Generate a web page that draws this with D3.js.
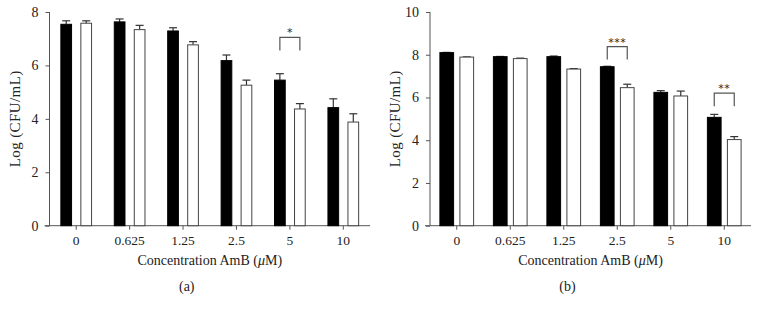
<!DOCTYPE html>
<html><head><meta charset="utf-8">
<script src="https://cdn.jsdelivr.net/npm/d3@7"></script>
<style>
body{margin:0;background:#fff;}
svg text{font-family:"Liberation Serif","Times New Roman",serif;fill:#222;}
svg text.star{font-family:"DejaVu Sans",sans-serif;-webkit-font-smoothing:grayscale;}
</style></head>
<body><svg id="c" width="760" height="312"></svg>
<script>
const categories = ["0","0.625","1.25","2.5","5","10"];
// panel (a)
const aBlack = [7.54, 7.63, 7.29, 6.18, 5.45, 4.42];
const aBlackErr = [0.13, 0.11, 0.12, 0.21, 0.24, 0.33];
const aWhite = [7.58, 7.34, 6.77, 5.26, 4.37, 3.88];
const aWhiteErr = [0.09, 0.16, 0.12, 0.19, 0.20, 0.31];
const aTicks = [0, 2, 4, 6, 8];
const aSig = [{cat:"5", label:"*", level:7.05}];
// panel (b)
const bBlack = [8.10, 7.91, 7.91, 7.44, 6.24, 5.07];
const bBlackErr = [0.01, 0.01, 0.03, 0.02, 0.08, 0.14];
const bWhite = [7.89, 7.82, 7.33, 6.46, 6.07, 4.03];
const bWhiteErr = [0.01, 0.02, 0.02, 0.16, 0.23, 0.14];
const bTicks = [0, 2, 4, 6, 8, 10];
const bSig = [{cat:"2.5", label:"***", level:8.38}, {cat:"10", label:"**", level:6.20}];

const svg = d3.select("#c");

function panel(opt){
  const g = svg.append("g");
  const y = d3.scaleLinear().domain([0, opt.ymax]).range([225.7, 12]);
  const x = d3.scaleBand().domain(categories).range([opt.x0, opt.x1]);
  // y axis
  const ya = g.append("g").attr("transform",`translate(${opt.x0},0)`)
    .call(d3.axisLeft(y).tickValues(opt.ticks).tickSize(4).tickPadding(7));
  ya.select(".domain").attr("stroke","#555").attr("d",`M0,${y(opt.ymax)}V${y(0)}`);
  ya.selectAll(".tick line").attr("stroke","#555");
  ya.selectAll("text").style("font-size","14px").attr("fill","#333");
  // x axis
  const xa = g.append("g").attr("transform",`translate(0,${y(0)})`)
    .call(d3.axisBottom(x).tickSize(4).tickPadding(6));
  xa.select(".domain").attr("stroke","#555").attr("d",`M${opt.x0-5},0H${opt.x1}`);
  xa.selectAll(".tick line").attr("stroke","#555");
  xa.selectAll("text").style("font-size","13.5px").attr("fill","#333");
  const c = d => x(d) + x.bandwidth()/2;
  const half = opt.gap/2;
  function series(vals, errs, left, fill){
    categories.forEach((cat,i)=>{
      const bx = left ? c(cat) - half - opt.bw : c(cat) + half;
      const mid = bx + opt.bw/2;
      g.append("line").attr("x1",mid).attr("x2",mid).attr("y1",y(vals[i])).attr("y2",y(vals[i]+errs[i]))
        .attr("stroke","#333").attr("stroke-width",1.2);
      g.append("line").attr("x1",mid-4).attr("x2",mid+4).attr("y1",y(vals[i]+errs[i])).attr("y2",y(vals[i]+errs[i]))
        .attr("stroke","#333").attr("stroke-width",1.2);
      g.append("rect").attr("x",bx).attr("width",opt.bw).attr("y",y(vals[i])).attr("height",y(0)-y(vals[i]))
        .attr("fill",fill).attr("stroke", fill==="#000"?"#000":"#444").attr("stroke-width",1);
    });
  }
  series(opt.black, opt.blackErr, true, "#000");
  series(opt.white, opt.whiteErr, false, "#fff");
  opt.sig.forEach(s=>{
    const xl = c(s.cat) - half - opt.bw/2, xr = c(s.cat) + half + opt.bw/2;
    const yt = y(s.level), yb = yt + 13;
    g.append("path").attr("d",`M${xl},${yb}V${yt}H${xr}V${yb}`).attr("fill","none").attr("stroke","#555").attr("stroke-width",1.2);
    g.append("text").attr("class","star").attr("x",(xl+xr)/2).attr("y",yt-1).attr("text-anchor","middle")
      .style("font-size","11px").style("letter-spacing","0.5px").attr("fill","#808080").text(s.label);
  });
  // labels
  g.append("text").attr("transform",`translate(${opt.x0-30},${(y(0)+y(opt.ymax))/2}) rotate(-90)`)
    .attr("text-anchor","middle").style("font-size","15px").style("letter-spacing","0.4px").attr("fill","#333").text("Log (CFU/mL)");
  const cx = (opt.x0+opt.x1)/2;
  const t = g.append("text").attr("x",cx).attr("y",265).attr("text-anchor","middle").style("font-size","14px").attr("fill","#333");
  t.append("tspan").text("Concentration AmB (");
  t.append("tspan").style("font-style","italic").text("μ");
  t.append("tspan").text("M)");
  g.append("text").attr("x",cx-23).attr("y",291).attr("text-anchor","middle").style("font-size","14px").attr("fill","#333").text(opt.tag);
}

panel({x0:49.5, x1:370, ymax:8, ticks:aTicks, black:aBlack, blackErr:aBlackErr, white:aWhite, whiteErr:aWhiteErr,
  bw:10.7, gap:9.3, sig:aSig, tag:"(a)"});
panel({x0:430, x1:751, ymax:10, ticks:bTicks, black:bBlack, blackErr:bBlackErr, white:bWhite, whiteErr:bWhiteErr,
  bw:13.7, gap:6.3, sig:bSig, tag:"(b)"});
</script></body></html>
